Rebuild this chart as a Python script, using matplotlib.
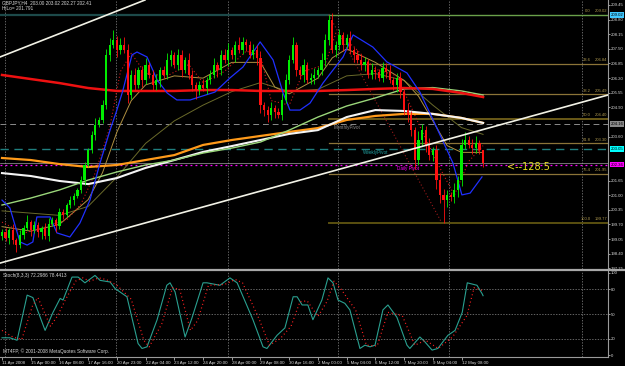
import matplotlib
matplotlib.use("Agg")
import matplotlib.pyplot as plt
from matplotlib.lines import Line2D
import matplotlib.transforms as mtransforms
import numpy as np

# ---------------- data ----------------
symbol_text = "GBPJPY,H4  203.00 203.02 202.27 202.41"
hilo_text = "HiLo= 201.791"
stoch_text = "Stoch(8,3,3) 72.2986 78.4413"
copyright_text = "MT4FP, \u00a9 2001-2008 MetaQuotes Software Corp."

closes = [199.36, 199.09, 199.45, 199.01, 198.78, 199.23, 199.54, 199.81, 199.45, 199.67,
          199.36, 199.54, 199.18, 199.72, 199.89, 199.63, 200.25, 200.12, 200.56, 200.78,
          200.96, 201.23, 201.67, 202.34, 203.01, 203.67, 204.12, 204.34, 205.01, 207.23,
          207.67, 207.89, 207.45, 207.67, 207.45, 205.45, 206.34, 205.89, 206.56, 206.12,
          206.78, 206.34, 205.89, 206.12, 206.56, 206.34, 207.01, 207.23, 206.78, 207.23,
          206.56, 207.01, 206.34, 205.89, 205.67, 205.89, 205.76, 206.12, 206.34, 206.78,
          206.56, 207.23, 207.01, 207.45, 207.23, 207.67, 207.45, 207.81, 207.67, 207.23,
          207.45, 207.09, 205.01, 204.78, 204.56, 204.87, 204.69, 204.56, 205.23, 206.12,
          207.01, 207.67, 206.56, 206.34, 206.78, 206.12, 206.21, 206.34, 206.56, 207.01,
          207.89, 208.78, 207.45, 207.67, 208.12, 207.67, 207.98, 207.45, 207.23, 207.01,
          206.78, 206.92, 206.34, 206.56, 206.47, 206.21, 206.65, 206.47, 206.12, 205.89,
          206.21, 205.58, 204.78, 204.56, 203.89, 202.56, 203.45, 203.89, 203.23, 202.78,
          203.01, 201.67, 201.01, 200.78, 201.01, 200.92, 201.23, 201.67, 203.23, 203.45,
          203.23, 203.09, 203.32, 203.00, 202.41]
first_open = 199.20
upper_wick = [0.15, 0.20, 0.10, 0.25, 0.10, 0.20, 0.15, 0.30, 0.10, 0.20,
              0.15, 0.10, 0.20, 0.25, 0.15, 0.10, 0.20, 0.15, 0.10, 0.20,
              0.15, 0.10, 0.20, 0.15, 0.10, 0.20, 0.30, 0.15, 0.20, 0.25,
              0.30, 0.45, 0.20, 0.30, 0.35, 0.25, 0.20, 0.30, 0.15, 0.20,
              0.30, 0.15, 0.20, 0.25, 0.15, 0.20, 0.30, 0.20, 0.15, 0.25,
              0.20, 0.15, 0.30, 0.20, 0.15, 0.20, 0.25, 0.15, 0.20, 0.30,
              0.15, 0.20, 0.25, 0.30, 0.15, 0.20, 0.35, 0.20, 0.15, 0.20,
              0.25, 0.20, 0.30, 0.15, 0.20, 0.25, 0.15, 0.20, 0.30, 0.25,
              0.20, 0.35, 0.15, 0.20, 0.25, 0.15, 0.20, 0.30, 0.15, 0.30,
              0.25, 0.24, 0.30, 0.20, 0.25, 0.15, 0.20, 0.30, 0.15, 0.20,
              0.25, 0.20, 0.15, 0.30, 0.20, 0.15, 0.25, 0.20, 0.30, 0.15,
              0.20, 0.25, 0.15, 0.30, 0.20, 0.15, 0.40, 0.25, 0.20, 0.30,
              0.15, 0.20, 0.30, 0.25, 0.20, 0.15, 0.30, 0.20, 0.25, 0.35,
              0.20, 0.25, 0.30, 0.15, 0.01]
lower_wick = [0.20, 0.15, 0.25, 0.20, 0.30, 0.15, 0.20, 0.10, 0.25, 0.15,
              0.20, 0.30, 0.15, 0.20, 0.10, 0.25, 0.15, 0.20, 0.10, 0.15,
              0.20, 0.10, 0.15, 0.20, 0.10, 0.15, 0.20, 0.10, 0.15, 0.20,
              0.25, 0.15, 0.30, 0.20, 0.15, 0.35, 0.20, 0.25, 0.15, 0.30,
              0.20, 0.15, 0.25, 0.20, 0.30, 0.15, 0.20, 0.25, 0.15, 0.20,
              0.30, 0.15, 0.20, 0.25, 0.40, 0.20, 0.15, 0.25, 0.20, 0.15,
              0.30, 0.20, 0.15, 0.25, 0.20, 0.30, 0.15, 0.20, 0.25, 0.15,
              0.20, 0.30, 0.35, 0.25, 0.30, 0.20, 0.25, 0.15, 0.20, 0.15,
              0.20, 0.15, 0.25, 0.20, 0.30, 0.15, 0.20, 0.25, 0.15, 0.20,
              0.25, 0.20, 0.15, 0.30, 0.20, 0.25, 0.15, 0.20, 0.30, 0.15,
              0.20, 0.25, 0.15, 0.20, 0.30, 0.15, 0.20, 0.25, 0.15, 0.20,
              0.30, 0.25, 0.20, 0.30, 0.25, 0.40, 0.20, 0.25, 0.30, 0.20,
              0.25, 0.40, 0.35, 1.01, 0.30, 0.20, 0.25, 0.30, 0.25, 0.20,
              0.15, 0.25, 0.20, 0.15, 0.14]

ma_bars = [0, 8, 16, 24, 32, 40, 48, 56, 64, 72, 80, 88, 96, 104, 112, 120, 128, 134]
ma_red = [206.34, 206.16, 205.98, 205.76, 205.63, 205.63, 205.63, 205.67, 205.67, 205.63,
          205.63, 205.63, 205.67, 205.72, 205.76, 205.72, 205.54, 205.36]
ma_green = [200.56, 200.87, 201.23, 201.67, 202.03, 202.34, 202.56, 202.87, 203.09, 203.36,
            203.89, 204.47, 204.96, 205.32, 205.72, 205.78, 205.63, 205.45]
ma_white = [201.98, 201.85, 201.63, 201.49, 201.76, 202.21, 202.56, 202.92, 203.18, 203.45,
            203.72, 203.89, 204.47, 204.78, 204.74, 204.61, 204.43, 204.21]
ma_orange = [202.65, 202.56, 202.38, 202.25, 202.34, 202.56, 202.78, 203.23, 203.45, 203.63,
             203.81, 203.98, 204.34, 204.52, 204.61, 204.61, 204.43, 204.21]

tan_bars = [0, 8, 16, 24, 28, 32, 36, 40, 48, 56, 64, 72, 76, 80, 88, 92, 96, 104, 112,
            116, 120, 124, 128, 134]
ma_tan = [199.6, 199.4, 199.7, 200.8, 202.0, 203.8, 205.2, 205.9, 206.3, 206.2, 206.9,
          206.9, 205.8, 205.5, 206.2, 207.1, 207.5, 206.9, 206.1, 205.4, 204.3, 203.2,
          202.9, 202.9]
olive_bars = [0, 16, 24, 32, 40, 48, 56, 64, 72, 80, 88, 96, 104, 112, 120, 128, 134]
ma_olive = [200.3, 200.1, 200.5, 201.8, 203.3, 204.3, 205.0, 205.6, 206.0, 205.6, 205.7,
            206.3, 206.4, 206.1, 205.0, 204.0, 203.7]
dot_bars = [0, 6, 12, 18, 22, 26, 30, 33, 36, 40, 46, 52, 56, 62, 68, 72, 75, 80, 84, 90,
            93, 98, 104, 110, 114, 118, 122, 126, 130, 134]
red_dotted = [199.8, 199.3, 199.6, 199.9, 200.6, 202.0, 204.0, 206.5, 207.3, 206.4, 206.3,
              206.8, 206.0, 206.5, 207.4, 207.2, 205.2, 205.0, 206.5, 206.8, 208.2, 207.6,
              206.6, 206.3, 204.9, 203.5, 202.2, 201.0, 202.5, 203.2]

blue_bars = [0, 2.2, 5.0, 7.0, 8.6, 9.7, 13.4, 15.3, 18.9, 21.7, 24.5, 27.3, 30.1, 32.0, 33.7,
             36.2, 37.6, 40.4, 43.2, 46.0, 48.7, 52.4, 59.3, 63.5, 67.1, 71.9, 75.5, 78.3, 80.2,
             83.0, 85.8, 89.4, 95.0, 97.8, 103.3, 107.2, 112.8, 116.4, 120.1, 125.6, 128.1,
             130.4, 133.7]
blue_vals = [200.78, 200.43, 198.92, 198.78, 198.92, 200.03, 200.03, 199.32, 199.14, 199.76,
             200.78, 202.43, 203.89, 204.78, 205.67, 207.23, 207.36, 207.14, 206.12, 205.54,
             205.23, 205.23, 205.58, 206.21, 206.69, 207.81, 207.01, 205.54, 204.78, 204.78,
             205.09, 205.98, 207.14, 208.12, 207.58, 206.92, 206.43, 205.58, 204.34, 202.43,
             201.01, 201.09, 201.81]

fib_high = 209.02
fib_low = 199.77
fib_start_bar = 91
fib_end_bar = 122.5
fib_levels = [0.0, 23.6, 38.2, 50.0, 61.8, 76.4, 100.0]

monthly_pivot = 204.16
weekly_pivot = 203.05
daily_pivot = 202.36
bid_price = 202.41

trend_upper = [(-0.56, 207.14), (39.8, 209.67)]
trend_lower = [(-0.56, 197.98), (168.8, 205.45)]

stoch_k_bars = [0, 2.2, 4.2, 7.0, 8.6, 12.0, 14.2, 16.2, 17.0, 19.5, 21.2, 23.1, 25.9, 27.3,
                30.1, 31.5, 34.8, 37.9, 39.0, 40.4, 43.2, 45.9, 46.8, 48.2, 51.0, 52.9, 56.0,
                57.1, 60.7, 63.5, 65.5, 69.9, 72.7, 73.8, 76.6, 78.8, 81.1, 82.2, 83.6, 85.2,
                86.6, 89.1, 90.8, 92.2, 93.6, 95.5, 96.9, 99.7, 101.1, 102.5, 103.9, 106.1,
                107.5, 110.0, 112.8, 113.6, 116.4, 117.8, 119.8, 121.4, 124.2, 126.2, 128.2,
                129.6, 132.3, 133.7, 134]
stoch_k = [21, 21, 18, 73, 70, 30, 52, 69, 67, 95, 95, 88, 97, 91, 89, 81, 71, 14, 8, 10,
           43, 85, 88, 77, 22, 45, 88, 88, 85, 94, 88, 43, 10, 8, 24, 33, 71, 71, 61, 61,
           43, 67, 94, 88, 67, 63, 55, 8, 12, 10, 12, 55, 61, 46, 12, 8, 22, 16, 6, 8,
           24, 30, 52, 88, 85, 75, 72.3]
stoch_d_bars = [0, 3, 5.5, 8.5, 10, 13.5, 15.5, 17.5, 20.5, 22.5, 24.5, 27, 29, 32, 36, 39.5,
                41, 44.5, 47.5, 49.5, 52.5, 54.5, 57.5, 62, 65, 67, 71.5, 74.5, 77.5, 80.5, 83,
                85, 88, 90.5, 92.5, 94.5, 97, 98.5, 101.5, 104.5, 107.5, 111.5, 115, 118, 121.5,
                125.5, 129.5, 131.5, 134]
stoch_d = [30, 22, 19, 60, 70, 35, 48, 66, 90, 94, 90, 94, 92, 85, 68, 18, 10, 38, 82, 80,
           30, 42, 85, 86, 92, 88, 45, 12, 20, 35, 65, 66, 47, 65, 90, 80, 64, 55, 12, 11,
           52, 48, 12, 18, 8, 22, 48, 82, 78.4]

time_tick_bars = [0, 8, 16, 24, 32, 40, 48, 56, 64, 72, 80, 88, 96, 104, 112, 120, 128]
time_tick_labels = ["11 Apr 2008", "15 Apr 00:00", "16 Apr 08:00", "17 Apr 16:00",
                    "20 Apr 23:00", "22 Apr 04:00", "23 Apr 12:00", "24 Apr 20:00",
                    "28 Apr 00:00", "29 Apr 08:00", "30 Apr 16:00", "2 May 00:00",
                    "5 May 04:00", "6 May 12:00", "7 May 20:00", "9 May 04:00", "12 May 08:00"]
grid_bars = [0.84, 31.8, 63.0, 93.6, 124.5, 161.6]
price_ticks = [209.45, 208.80, 208.15, 207.50, 206.85, 206.20, 205.55, 204.90, 203.60,
               201.65, 201.00, 200.35, 199.70, 199.05, 198.40, 197.75]
stoch_ticks = [0, 20, 50, 80, 100]
arrow_note = "<--128.5"

# ---------------- figure ----------------
FONT = "Liberation Sans"
fig = plt.figure(figsize=(6.25, 3.66), dpi=100, facecolor="black")
ax = fig.add_axes([0, 97 / 366, 608 / 625, 269 / 366])
ax2 = fig.add_axes([0, 9 / 366, 608 / 625, 86 / 366])
XL = (-0.56, 168.8)
for a in (ax, ax2):
    a.set_facecolor("black")
    a.set_xlim(*XL)
    for s in ("top", "left"):
        a.spines[s].set_visible(False)
    for s in ("right", "bottom"):
        a.spines[s].set_color("#9a9a9a")
        a.spines[s].set_linewidth(0.8)
    a.yaxis.tick_right()
    a.tick_params(axis="y", colors="#d8d8d8", labelsize=3.1, length=1.5, width=0.5, pad=0.5)
    for v in grid_bars:
        a.axvline(v, color="#8a8a8a", lw=0.5, ls=(0, (2, 2)), zorder=1)
ax.set_ylim(197.717, 209.672)
ax.spines["bottom"].set_visible(False)
ax.set_xticks([])
ax.set_yticks(price_ticks)
ax.set_yticklabels([f"{v:.2f}" for v in price_ticks], fontfamily=FONT)

# separator
fig.add_artist(Line2D([0, 1], [1 - 269.5 / 366] * 2, color="#a8a8a8", lw=1.6,
                      transform=fig.transFigure))

# trendlines
ax.plot([p[0] for p in trend_upper], [p[1] for p in trend_upper], color="#f2f2e6", lw=1.2, zorder=6)
ax.plot([p[0] for p in trend_lower], [p[1] for p in trend_lower], color="#f2f2e6", lw=1.2, zorder=6)

# pivot lines
ax.axhline(monthly_pivot, color="#8c8c8c", lw=0.7, ls=(0, (6, 4)), zorder=2)
ax.axhline(weekly_pivot, color="#1f7f7f", lw=1.0, ls=(0, (6, 4)), zorder=2)
ax.axhline(bid_price, color="#a0a0a0", lw=0.5, zorder=2)
ax.axhline(daily_pivot, color="#ff00ff", lw=0.9, ls=(0, (1.5, 2.5)), zorder=2)

# high line and fibonacci
ax.plot([XL[0], fib_start_bar], [fib_high, fib_high], color="#1d4a4a", lw=1.6, zorder=2)
fib_colors = ["#6aa04a", "#8c7438", "#8c7438", "#6a5a18", "#8c7438", "#8c7438", "#5a5010"]
fib_lw = [1.0, 0.9, 0.9, 1.4, 0.9, 0.9, 1.4]
for lev, c, lw in zip(fib_levels, fib_colors, fib_lw):
    price = fib_high - (fib_high - fib_low) * lev / 100.0
    ax.plot([fib_start_bar, XL[1]], [price, price], color=c, lw=lw, zorder=2)
    ax.text(164.0, price + 0.06, f"{lev:.1f}", color="#b09a50", fontsize=3.0,
            fontfamily=FONT, ha="right", va="bottom", zorder=7)
    ax.text(168.5, price + 0.06, f"{price:.2f}", color="#b09a50", fontsize=3.0,
            fontfamily=FONT, ha="right", va="bottom", zorder=7)
ax.plot([fib_start_bar, fib_end_bar], [fib_high, fib_low], color="#9a1a1a", lw=0.8,
        ls=(0, (1, 2)), zorder=3)

# moving averages
ax.plot(olive_bars, ma_olive, color="#6a6a2a", lw=0.7, zorder=3)
ax.plot(tan_bars, ma_tan, color="#b09040", lw=0.7, zorder=3)
ax.plot(dot_bars, red_dotted, color="#d01818", lw=0.8, ls=(0, (1, 2)), zorder=3)
ax.plot(ma_bars, ma_orange, color="#ff9a1a", lw=1.6, zorder=4)
ax.plot(ma_bars, ma_white, color="#f4f4f4", lw=1.5, zorder=4)
ax.plot(ma_bars, ma_green, color="#9ad67a", lw=1.0, zorder=4)
ax.plot(ma_bars, ma_red, color="#ee1111", lw=1.8, zorder=4)
ax.plot(blue_bars, blue_vals, color="#2030ff", lw=0.9, zorder=4)

# candles
opens = [first_open] + closes[:-1]
for i, (o, c, uw, lw_) in enumerate(zip(opens, closes, upper_wick, lower_wick)):
    col = "#00ee00" if c >= o else "#ff1010"
    hi = max(o, c) + uw
    lo = min(o, c) - lw_
    ax.vlines(i, lo, hi, color=col, lw=0.6, zorder=5)
    ax.bar(i, max(abs(c - o), 0.03), bottom=min(o, c), width=0.62, color=col,
           edgecolor=col, linewidth=0, zorder=5)

# labels on chart
ax.text(92.3, monthly_pivot - 0.06, "MonthlyPivot", color="#909090", fontsize=3.3,
        fontfamily=FONT, va="top", zorder=3)
ax.text(100.5, weekly_pivot - 0.06, "WeeklyPivot", color="#20a0a0", fontsize=3.3,
        fontfamily=FONT, va="top", zorder=3)
ax.text(110.0, daily_pivot - 0.08, "Daily Pivot", color="#ff00ff", fontsize=3.3,
        fontfamily=FONT, va="top", zorder=3)
ax.text(140.8, daily_pivot - 0.10, arrow_note, color="#e8e020", fontsize=7.0,
        fontfamily="DejaVu Sans", va="center", ha="left", zorder=7)

# right-axis price boxes
trans = mtransforms.blended_transform_factory(ax.transAxes, ax.transData)
for price, fc in [(fib_high, "#40c8ff"), (monthly_pivot, "#8a8a8a"),
                  (weekly_pivot, "#00ffff"), (daily_pivot, "#ff00ff")]:
    ax.text(1.004, price, f"{price:.2f}", transform=trans, color="black", fontsize=3.1,
            fontfamily=FONT, va="center", ha="left", clip_on=False, zorder=10,
            bbox=dict(boxstyle="square,pad=0.2", fc=fc, ec="none"))

# stochastic
ax2.set_ylim(-2.4, 102.4)
for lv in (20, 50, 80):
    ax2.axhline(lv, color="#8a8a8a", lw=0.5, ls=(0, (2, 2)), zorder=1)
ax2.plot(stoch_k_bars, stoch_k, color="#2aa090", lw=0.8, zorder=4)
ax2.plot(stoch_d_bars, stoch_d, color="#ff2020", lw=0.9, ls=(0, (0.8, 2.2)), zorder=4)
ax2.set_yticks(stoch_ticks)
ax2.set_yticklabels([str(v) for v in stoch_ticks], fontfamily=FONT)
ax2.set_xticks(time_tick_bars)
ax2.set_xticklabels(time_tick_labels, fontfamily=FONT, ha="left")
ax2.tick_params(axis="x", colors="#d8d8d8", labelsize=3.2, length=2, width=0.5, pad=1)
ax2.text(0.005, 0.975, stoch_text, transform=ax2.transAxes, color="#d8d8d8", fontsize=3.4,
         fontfamily=FONT, va="top", ha="left")
ax2.text(0.005, 0.035, copyright_text, transform=ax2.transAxes, color="#d8d8d8", fontsize=3.4,
         fontfamily=FONT, va="bottom", ha="left")

fig.text(2 / 625, 1 - 3 / 366, symbol_text, color="#d8d8d8", fontsize=3.4, fontfamily=FONT,
         va="center", ha="left")
fig.text(2 / 625, 1 - 9 / 366, hilo_text, color="#d8d8d8", fontsize=3.4, fontfamily=FONT,
         va="center", ha="left")

fig.savefig("out.png", dpi=100, facecolor="black")
